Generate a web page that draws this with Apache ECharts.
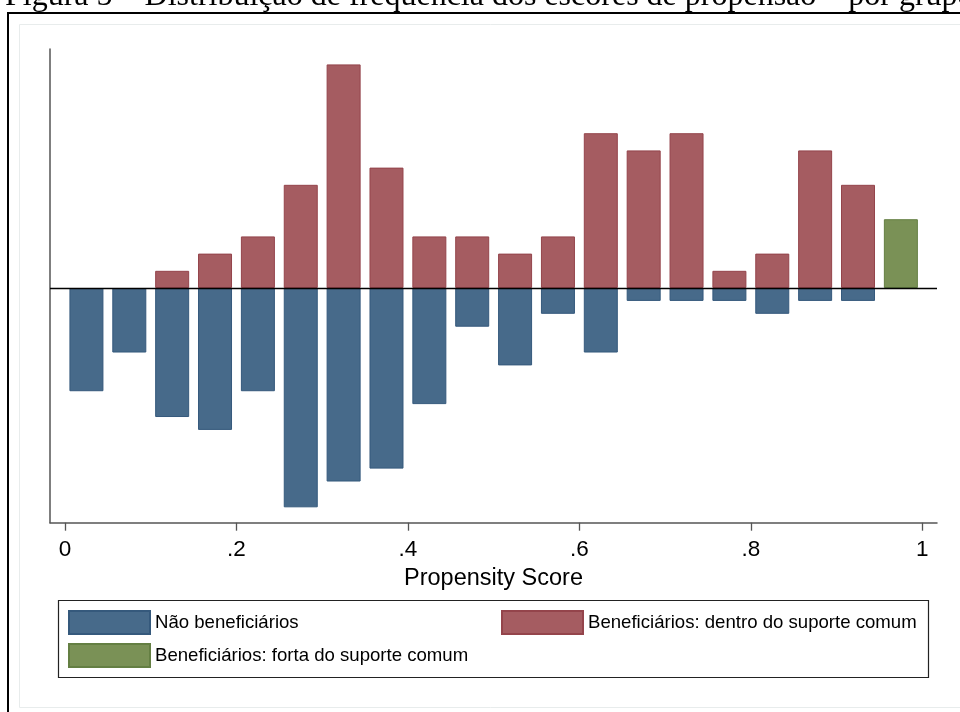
<!DOCTYPE html>
<html><head><meta charset="utf-8">
<script src="https://cdn.jsdelivr.net/npm/echarts@6/dist/echarts.min.js"></script>
<style>html,body{margin:0;padding:0;background:#fff}#c{width:960px;height:712px}</style>
</head><body><div id="c"></div>
<script>
// Bin centres of the propensity-score histogram (bin width 0.05)
const binCenters = [0.025,0.075,0.125,0.175,0.225,0.275,0.325,0.375,0.425,0.475,0.525,0.575,0.625,0.675,0.725,0.775,0.825,0.875,0.925,0.975];
const binWidth = 0.05;
// Counts per bin
const naoBenef    = [8,5,10,11,8,17,15,14,9,3,6,2,5,1,1,1,2,1,1,0];
const benefDentro = [0,0,1,2,3,6,13,7,3,3,2,3,9,8,9,1,2,8,6,0];
const benefFora   = [0,0,0,0,0,0,0,0,0,0,0,0,0,0,0,0,0,0,0,4];
const xTicks = [0,0.2,0.4,0.6,0.8,1];
const xTickLabels = ['0','.2','.4','.6','.8','1'];
const seriesNames = ['Não beneficiários','Beneficiários: dentro do suporte comum','Beneficiários: forta do suporte comum'];
const titleText = 'Figura 5 – Distribuição de frequência dos escores de propensão – por grupo';
const xAxisName = 'Propensity Score';

const sum = a => a.reduce((s,v)=>s+v,0);
const nControl = sum(naoBenef);
const nTreated = sum(benefDentro) + sum(benefFora);
function densityData(counts, n, sign){
  return counts.map((c,i)=> c>0 ? [binCenters[i], sign*c/(n*binWidth)] : null).filter(Boolean);
}

const SANS = '"Liberation Sans", Arial, Helvetica, sans-serif';
const chart = echarts.init(document.getElementById('c'), null, {renderer:'canvas'});
const legendCommon = {
  orient:'horizontal', padding:0, itemWidth:81, itemHeight:23, icon:'rect',
  selectedMode:false, textStyle:{fontSize:18.6, color:'#000', fontFamily:SANS}
};
chart.setOption({
  animation:false,
  backgroundColor:'#fff',
  grid:{left:50, right:23, top:49, bottom:189.3, containLabel:false},
  xAxis:{
    type:'value', min:-0.0175, max:1.01715,
    name:xAxisName, nameLocation:'middle', nameGap:39,
    nameTextStyle:{fontSize:23.5, color:'#000', fontFamily:SANS},
    axisLine:{show:true, onZero:false, lineStyle:{color:'#555', width:1.5}},
    axisTick:{show:true, length:8, customValues:xTicks, lineStyle:{color:'#555', width:1.3}},
    axisLabel:{show:true, customValues:xTicks, margin:16, fontSize:22.5, color:'#000', fontFamily:SANS,
      formatter:v=>{const i=xTicks.findIndex(t=>Math.abs(t-v)<1e-9);return i>=0?xTickLabels[i]:'';}},
    splitLine:{show:false}
  },
  yAxis:{
    type:'value', min:-3.032, max:3.088,
    axisLine:{show:true, onZero:false, lineStyle:{color:'#555', width:1.5}},
    axisTick:{show:false}, axisLabel:{show:false}, splitLine:{show:false}
  },
  legend:[
    Object.assign({data:[seriesNames[0]], left:68, top:610}, legendCommon),
    Object.assign({data:[seriesNames[1]], left:501, top:610}, legendCommon),
    Object.assign({data:[seriesNames[2]], left:68, top:643}, legendCommon)
  ],
  series:[
    {name:seriesNames[0], type:'bar', barWidth:34, barGap:'-100%',
     data:densityData(naoBenef, nControl, -1),
     itemStyle:{color:'#476a8a', borderColor:'#35597c', borderWidth:1},
     markLine:{silent:true, symbol:['none','none'], label:{show:false},
       lineStyle:{color:'#000', width:1.3, type:'solid'}, data:[{yAxis:0}]},
     z:2},
    {name:seriesNames[1], type:'bar', barWidth:34, barGap:'-100%',
     data:densityData(benefDentro, nTreated, 1),
     itemStyle:{color:'#a55c61', borderColor:'#94444b', borderWidth:1}},
    {name:seriesNames[2], type:'bar', barWidth:34, barGap:'-100%',
     data:densityData(benefFora, nTreated, 1),
     itemStyle:{color:'#7a9156', borderColor:'#647f43', borderWidth:1}}
  ],
  graphic:[
    {type:'rect', silent:true, z:-1, shape:{x:19.5, y:24.5, width:1000, height:683}, style:{fill:'none', stroke:'#e8ecec', lineWidth:1}},
    {type:'rect', silent:true, z:10, shape:{x:8, y:13, width:1000, height:800}, style:{fill:'none', stroke:'#000', lineWidth:2}},
    {type:'rect', silent:true, z:10, shape:{x:58.5, y:600.5, width:870, height:77}, style:{fill:'none', stroke:'#222', lineWidth:1.2}},
    {type:'text', silent:true, z:10, x:5, y:-3.8, style:{text:titleText, fill:'#000', font:'32px "Liberation Serif", "Times New Roman", serif', textVerticalAlign:'middle', textAlign:'left'}}
  ]
});
</script></body></html>
